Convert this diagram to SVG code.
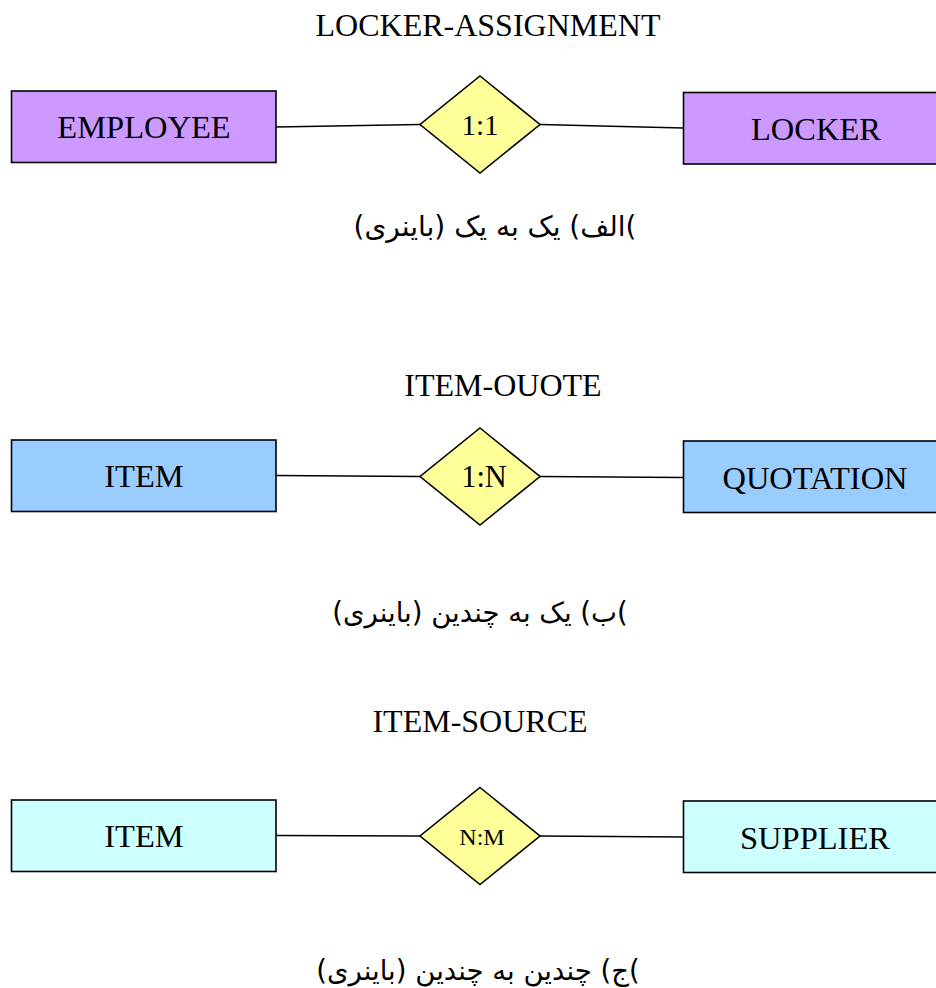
<svg xmlns="http://www.w3.org/2000/svg" width="936" height="988" viewBox="0 0 936 988">
<style>
.t{font-family:"Liberation Serif","Times New Roman",serif;fill:#000;text-anchor:middle}
.title{font-size:32px}
.ent text{font-size:32.5px}
.rel text{font-size:29px}
.ent rect,.rel polygon{stroke:#000;stroke-width:1.6}
.p{fill:#cc99ff}.b{fill:#99ccff}.c{fill:#ccffff}.y{fill:#ffff99}
#connectors line{stroke:#000;stroke-width:1.6}
.fa{font-family:"DejaVu Sans","Noto Sans",sans-serif;font-size:27.5px;text-anchor:middle;fill:#000}
</style>
<rect width="936" height="988" fill="#fff"/>

<!-- section titles -->
<text class="t title" x="488" y="36">LOCKER-ASSIGNMENT</text>
<text class="t title" x="503" y="396">ITEM-OUOTE</text>
<text class="t title" x="480" y="732">ITEM-SOURCE</text>

<!-- connectors -->
<g id="connectors">
  <line x1="276" y1="127" x2="420" y2="124.5"/>
  <line x1="540" y1="124.5" x2="683" y2="128"/>
  <line x1="276" y1="475.5" x2="420" y2="476.5"/>
  <line x1="540" y1="476.5" x2="683" y2="477.5"/>
  <line x1="276" y1="835.5" x2="420" y2="836"/>
  <line x1="540" y1="836" x2="683" y2="837"/>
</g>

<!-- one-to-one -->
<g id="employee" class="ent">
  <rect class="p" x="11.5" y="91" width="264.5" height="71.5"/>
  <text class="t" x="144" y="138">EMPLOYEE</text>
</g>
<g id="locker-assignment" class="rel">
  <polygon class="y" points="480,76 540,124.5 480,173 420,124.5"/>
  <text class="t" x="480" y="135">1:1</text>
</g>
<g id="locker" class="ent">
  <rect class="p" x="683.5" y="92.5" width="264.5" height="71.5"/>
  <text class="t" x="816" y="140">LOCKER</text>
</g>
<text class="fa" x="495" y="236" direction="rtl" style="font-size:28px">)الف) یک به یک (باینری)</text>

<!-- one-to-many -->
<g id="item-quote-item" class="ent">
  <rect class="b" x="11.5" y="440" width="264.5" height="71.5"/>
  <text class="t" x="144" y="487">ITEM</text>
</g>
<g id="item-quote" class="rel">
  <polygon class="y" points="480,428 540,476.5 480,525 420,476.5"/>
  <text class="t" x="484" y="487" style="font-size:30.5px">1:N</text>
</g>
<g id="quotation" class="ent">
  <rect class="b" x="683.5" y="441" width="264.5" height="71.5"/>
  <text class="t" x="815" y="489">QUOTATION</text>
</g>
<text class="fa" x="480" y="622" direction="rtl">)ب) یک به چندین (باینری)</text>

<!-- many-to-many -->
<g id="item-source-item" class="ent">
  <rect class="c" x="11.5" y="800" width="264.5" height="71.5"/>
  <text class="t" x="144" y="847">ITEM</text>
</g>
<g id="item-source" class="rel">
  <polygon class="y" points="480,787.5 540,836 480,884.5 420,836"/>
  <text class="t" x="482" y="845" style="font-size:24px">N:M</text>
</g>
<g id="supplier" class="ent">
  <rect class="c" x="683.5" y="801" width="264.5" height="71.5"/>
  <text class="t" x="815" y="849">SUPPLIER</text>
</g>
<text class="fa" x="478" y="980" direction="rtl">)ج) چندین به چندین (باینری)</text>
</svg>
